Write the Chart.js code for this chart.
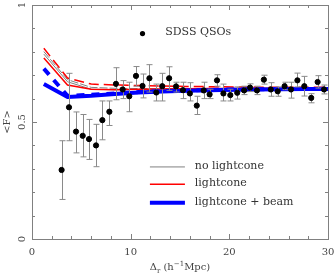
<!DOCTYPE html>
<html lang="en">
<head>
    <meta charset="UTF-8">
    <title>Mean flux vs transverse separation</title>
    <script src="https://cdn.jsdelivr.net/npm/chart.js"></script>
    <style>
        body { margin: 0; background: #fff; }
        canvas { display: block; }
    </style>
</head>
<body>
    <canvas id="fluxChart" width="334" height="280"></canvas>

    <script>
        // SDSS QSO pairs: separation, mean flux, error bar ends
        let qsoX  = [3.0, 3.75, 4.46, 5.14, 5.78, 6.49, 7.13, 7.84, 8.51, 9.19, 9.86, 10.54, 11.2, 11.9, 12.6, 13.2, 13.9, 14.6, 15.3, 16.0,
                     16.7, 17.4, 18.0, 18.75, 19.4, 20.1, 20.8, 21.5, 22.1, 22.8, 23.5, 24.2, 24.9, 25.6, 26.25, 26.9, 27.6, 28.3, 28.95, 29.6];
        let qsoY  = [0.295, 0.563, 0.459, 0.441, 0.427, 0.400, 0.508, 0.544, 0.663, 0.639, 0.610, 0.697, 0.654, 0.687, 0.626, 0.653, 0.687, 0.652, 0.636, 0.622,
                     0.570, 0.635, 0.618, 0.678, 0.622, 0.615, 0.625, 0.635, 0.647, 0.635, 0.681, 0.639, 0.631, 0.653, 0.639, 0.678, 0.653, 0.603, 0.671, 0.639];
        let qsoHi = [0.420, 0.708, 0.543, 0.532, 0.511, 0.490, 0.590, 0.590, 0.732, 0.677, 0.670, 0.737, 0.705, 0.745, 0.662, 0.708, 0.736, 0.670, 0.670, 0.668,
                     0.610, 0.670, 0.640, 0.702, 0.662, 0.640, 0.650, 0.653, 0.663, 0.653, 0.700, 0.668, 0.650, 0.670, 0.670, 0.709, 0.695, 0.621, 0.698, 0.658];
        let qsoLo = [0.169, 0.420, 0.368, 0.351, 0.340, 0.309, 0.424, 0.485, 0.595, 0.600, 0.544, 0.653, 0.603, 0.628, 0.590, 0.590, 0.635, 0.628, 0.600, 0.590,
                     0.532, 0.600, 0.600, 0.653, 0.590, 0.590, 0.598, 0.617, 0.630, 0.617, 0.662, 0.610, 0.610, 0.638, 0.602, 0.650, 0.611, 0.582, 0.645, 0.620];

        // model curves
        let curveX     = [1.2, 3.6, 6.0, 8.4, 10.8, 13.2, 15.6, 18.0, 20.4, 22.8, 25.2, 27.6, 30.0];
        let noLcSolid  = [0.790, 0.672, 0.640, 0.638, 0.639, 0.640, 0.641, 0.641, 0.642, 0.642, 0.642, 0.642, 0.642];
        let noLcDash   = [0.801, 0.681, 0.648, 0.644, 0.643, 0.643, 0.643, 0.643, 0.643, 0.643, 0.643, 0.643, 0.643];
        let lcSolid    = [0.773, 0.658, 0.640, 0.638, 0.640, 0.641, 0.642, 0.643, 0.643, 0.644, 0.644, 0.645, 0.645];
        let lcDash     = [0.815, 0.688, 0.662, 0.658, 0.656, 0.654, 0.652, 0.651, 0.650, 0.649, 0.649, 0.648, 0.648];
        let beamSolid  = [0.662, 0.607, 0.612, 0.620, 0.626, 0.630, 0.634, 0.636, 0.638, 0.639, 0.640, 0.641, 0.641];
        let beamDash   = [0.728, 0.612, 0.616, 0.622, 0.628, 0.632, 0.635, 0.637, 0.639, 0.640, 0.641, 0.641, 0.642];

        let xTicks = [0, 10, 20, 30];
        let yTicks = [0, 0.5, 1];
        let yTickLabels = ["0", "0.5", "1"];

        let legendLines = ["no lightcone", "lightcone", "lightcone + beam"];
        let legendPoint = "SDSS QSOs";

        function pts(arr) {
            return curveX.map((x, i) => ({ x: x, y: arr[i] }));
        }

        const serif = "'DejaVu Serif', serif";
        const frameColor = "#808080";

        const axesPlugin = {
            id: "axesPlugin",
            beforeDatasetDraw(chart, args) {
                if (args.index !== 0) return;
                // error bars under the points
                let ctx = chart.ctx, xs = chart.scales.x, ys = chart.scales.y;
                ctx.save();
                ctx.strokeStyle = "#8a8a8a";
                ctx.lineWidth = 1;
                qsoX.forEach((x, i) => {
                    let px = Math.round(xs.getPixelForValue(x)) + 0.5;
                    let top = ys.getPixelForValue(qsoHi[i]);
                    let bot = ys.getPixelForValue(qsoLo[i]);
                    ctx.beginPath();
                    ctx.moveTo(px, top); ctx.lineTo(px, bot);
                    ctx.moveTo(px - 3, top); ctx.lineTo(px + 3, top);
                    ctx.moveTo(px - 3, bot); ctx.lineTo(px + 3, bot);
                    ctx.stroke();
                });
                ctx.restore();
            },
            afterDraw(chart) {
                let ctx = chart.ctx, a = chart.chartArea;
                let xs = chart.scales.x, ys = chart.scales.y;
                ctx.save();

                // frame
                ctx.strokeStyle = frameColor;
                ctx.lineWidth = 1;
                ctx.strokeRect(Math.round(a.left) + 0.5, Math.round(a.top) + 0.5,
                               Math.round(a.right - a.left), Math.round(a.bottom - a.top));

                // inward ticks on all sides
                ctx.beginPath();
                for (let v = 0; v <= 30; v += 2) {
                    let px = Math.round(xs.getPixelForValue(v)) + 0.5;
                    let len = xTicks.includes(v) ? 5 : 3;
                    ctx.moveTo(px, a.bottom); ctx.lineTo(px, a.bottom - len);
                    ctx.moveTo(px, a.top); ctx.lineTo(px, a.top + len);
                }
                for (let k = 0; k <= 10; k++) {
                    let v = k / 10;
                    let py = Math.round(ys.getPixelForValue(v)) + 0.5;
                    let len = (k % 5 === 0) ? 5 : 3;
                    ctx.moveTo(a.left, py); ctx.lineTo(a.left + len, py);
                    ctx.moveTo(a.right, py); ctx.lineTo(a.right - len, py);
                }
                ctx.stroke();

                // tick labels
                ctx.fillStyle = "#444";
                ctx.font = "10px " + serif;
                ctx.textAlign = "center";
                ctx.textBaseline = "middle";
                xTicks.forEach(v => {
                    ctx.fillText(String(v), xs.getPixelForValue(v), a.bottom + 13);
                });
                yTicks.forEach((v, i) => {
                    ctx.save();
                    ctx.translate(a.left - 10, ys.getPixelForValue(v));
                    ctx.rotate(-Math.PI / 2);
                    ctx.fillText(yTickLabels[i], 0, 0);
                    ctx.restore();
                });

                // x title: Δ_r (h^-1 Mpc)
                let parts = [
                    { t: "\u0394", size: 10, dy: 0 },
                    { t: "r", size: 7, dy: 3 },
                    { t: " (h", size: 10, dy: 0 },
                    { t: "\u22121", size: 7, dy: -4 },
                    { t: "Mpc)", size: 10, dy: 0 }
                ];
                let total = 0;
                parts.forEach(p => { ctx.font = p.size + "px " + serif; p.w = ctx.measureText(p.t).width; total += p.w; });
                let cx = (a.left + a.right) / 2 - total / 2;
                ctx.textAlign = "left";
                ctx.textBaseline = "alphabetic";
                parts.forEach(p => {
                    ctx.font = p.size + "px " + serif;
                    ctx.fillText(p.t, cx, a.bottom + 31 + p.dy);
                    cx += p.w;
                });

                // y title
                ctx.save();
                ctx.font = "10px " + serif;
                ctx.textAlign = "center";
                ctx.textBaseline = "middle";
                ctx.translate(7, (a.top + a.bottom) / 2);
                ctx.rotate(-Math.PI / 2);
                ctx.fillText("<F>", 0, 0);
                ctx.restore();

                // legend inside the plot
                ctx.font = "11px " + serif;
                let mx = xs.getPixelForValue(11.2), my = ys.getPixelForValue(0.878);
                ctx.beginPath();
                ctx.arc(mx, my, 2.6, 0, Math.PI * 2);
                ctx.fillStyle = "#000";
                ctx.fill();
                ctx.fillStyle = "#333";
                ctx.textAlign = "left";
                ctx.textBaseline = "alphabetic";
                ctx.fillText(legendPoint, xs.getPixelForValue(13.5), my + 1);

                let styles = [
                    { c: "#808080", w: 1 },
                    { c: "#ff0000", w: 1.5 },
                    { c: "#0000ff", w: 4 }
                ];
                let ly = [0.308, 0.234, 0.155];
                let x0 = xs.getPixelForValue(11.95), x1 = xs.getPixelForValue(15.5);
                ctx.textBaseline = "middle";
                legendLines.forEach((txt, i) => {
                    let py = ys.getPixelForValue(ly[i]);
                    ctx.strokeStyle = styles[i].c;
                    ctx.lineWidth = styles[i].w;
                    ctx.beginPath();
                    ctx.moveTo(x0, py); ctx.lineTo(x1, py);
                    ctx.stroke();
                    ctx.fillText(txt, xs.getPixelForValue(16.5), py - 1);
                });

                ctx.restore();
            }
        };

        new Chart(document.getElementById("fluxChart"), {
            type: "scatter",
            data: {
                datasets: [
                    {
                        label: legendPoint,
                        data: qsoX.map((x, i) => ({ x: x, y: qsoY[i] })),
                        backgroundColor: "#000",
                        borderColor: "#000",
                        pointRadius: 2.6
                    },
                    { type: "line", data: pts(beamSolid), borderColor: "#0000ff", borderWidth: 4, pointRadius: 0 },
                    { type: "line", data: pts(beamDash), borderColor: "#0000ff", borderWidth: 4, borderDash: [8, 7], pointRadius: 0 },
                    { type: "line", data: pts(lcSolid), borderColor: "#ff0000", borderWidth: 1.5, pointRadius: 0 },
                    { type: "line", data: pts(lcDash), borderColor: "#ff0000", borderWidth: 1.5, borderDash: [10, 5], pointRadius: 0 },
                    { type: "line", data: pts(noLcSolid), borderColor: "#808080", borderWidth: 1, pointRadius: 0 },
                    { type: "line", data: pts(noLcDash), borderColor: "#808080", borderWidth: 1, borderDash: [8, 2], pointRadius: 0 }
                ]
            },
            options: {
                responsive: false,
                animation: false,
                layout: { padding: { left: 32, right: 6, top: 1, bottom: 41 } },
                plugins: {
                    legend: { display: false },
                    tooltip: { enabled: false }
                },
                scales: {
                    x: { type: "linear", min: 0, max: 30, display: false },
                    y: { type: "linear", min: 0, max: 1, display: false }
                }
            },
            plugins: [axesPlugin]
        });
    </script>
</body>
</html>
